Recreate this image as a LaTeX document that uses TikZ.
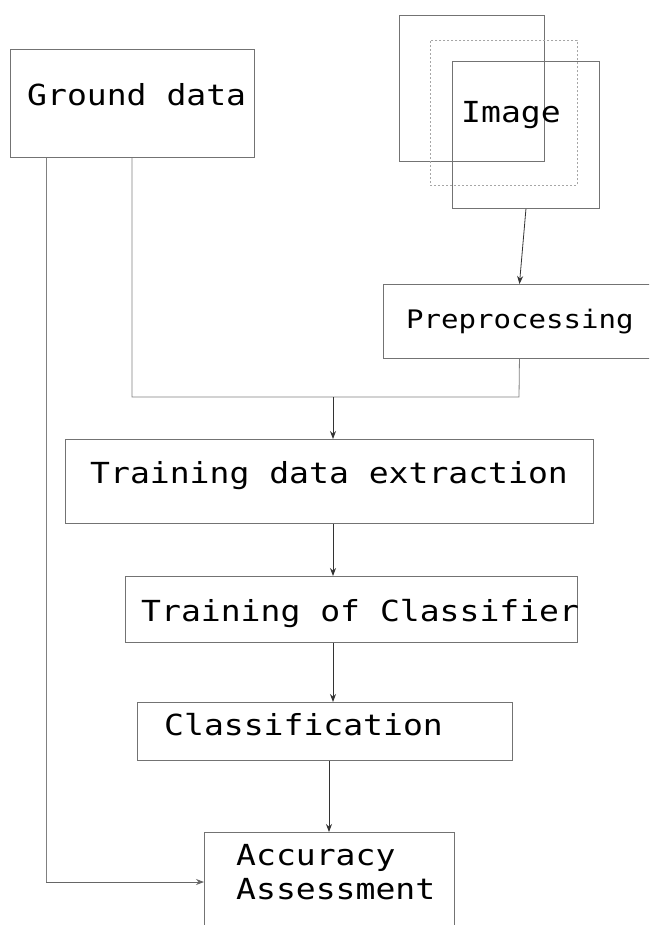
\documentclass[tikz,border=0pt]{standalone}
\usepackage{fontspec}
\newfontfamily\labelfont[FakeStretch=1.14]{DejaVu Sans Mono}
\usetikzlibrary{arrows.meta}
\begin{document}
\begin{tikzpicture}[x=1pt, y=-1pt,
  box/.style={draw=black!55, line width=0.9pt, rectangle, inner sep=0pt, anchor=north west},
  faintbox/.style={box, draw=black!35, dash pattern=on 2pt off 2pt},
  lbl/.style={font=\labelfont\fontsize{29}{34}\selectfont, inner sep=0pt, anchor=base west, text=black},
  smalllbl/.style={lbl, font=\labelfont\fontsize{25.5}{30}\selectfont},
  wire/.style={draw=black!50, line width=0.8pt},
  arr/.style={draw=black!80, line width=0.8pt, -{Stealth[length=8pt,width=6pt]}}
]
\useasboundingbox (0,0) rectangle (649,925);
\clip (0,0) rectangle (649,925);

% boxes
\node[box, minimum width=244pt, minimum height=108pt] (ground) at (10,49) {};
\node[box, minimum width=145pt, minimum height=146pt] (img1) at (399,15) {};
\node[faintbox, minimum width=147pt, minimum height=145pt] (img2) at (430,40) {};
\node[box, minimum width=147pt, minimum height=147pt] (img3) at (452,61) {};
\node[box, minimum width=272pt, minimum height=74pt] (prep) at (383,284) {};
\node[box, minimum width=528pt, minimum height=84pt] (tde) at (65,439) {};
\node[box, minimum width=452pt, minimum height=66pt] (toc) at (125,576) {};
\node[box, minimum width=375pt, minimum height=58pt] (cls) at (137,702) {};
\node[box, minimum width=250pt, minimum height=130pt] (acc) at (204,832) {};

% labels
\node[lbl] (tground) at (27,106) {Ground data};
\node[lbl] (timg) at (461,123) {Image};
\node[smalllbl] (tprep) at (406,328) {Preprocessing};
\node[lbl] (ttde) at (90,483) {Training data extraction};
\node[lbl] (ttoc) at (141,621) {Training of Classifier};
\node[lbl] (tcls) at (164,735) {Classification};
\node[lbl] (tacc1) at (236,865) {Accuracy};
\node[lbl] (tacc2) at (236,899) {Assessment};

% junction points
\coordinate (ga) at (46,882);
\coordinate (gb) at (132,397);
\coordinate (pj) at (519,397);
\coordinate (mid) at (333,397);
\coordinate (c1) at (333,0);
\coordinate (c2) at (329,0);

% connectors
\draw[arr] (img3.south) -- (prep.north);
\draw[wire] (ground.south -| gb) -- (gb) -- (pj) -- (prep.south);
\draw[arr] (mid) -- (tde.north -| mid);
\draw[arr] (tde.south -| c1) -- (toc.north -| c1);
\draw[arr] (toc.south -| c1) -- (cls.north -| c1);
\draw[arr] (cls.south -| c2) -- (acc.north -| c2);
\draw[wire] (ground.south -| ga) -- (ga);
\draw[arr, draw=black!60] (ga) -- (acc.west |- ga);
\end{tikzpicture}
\end{document}
